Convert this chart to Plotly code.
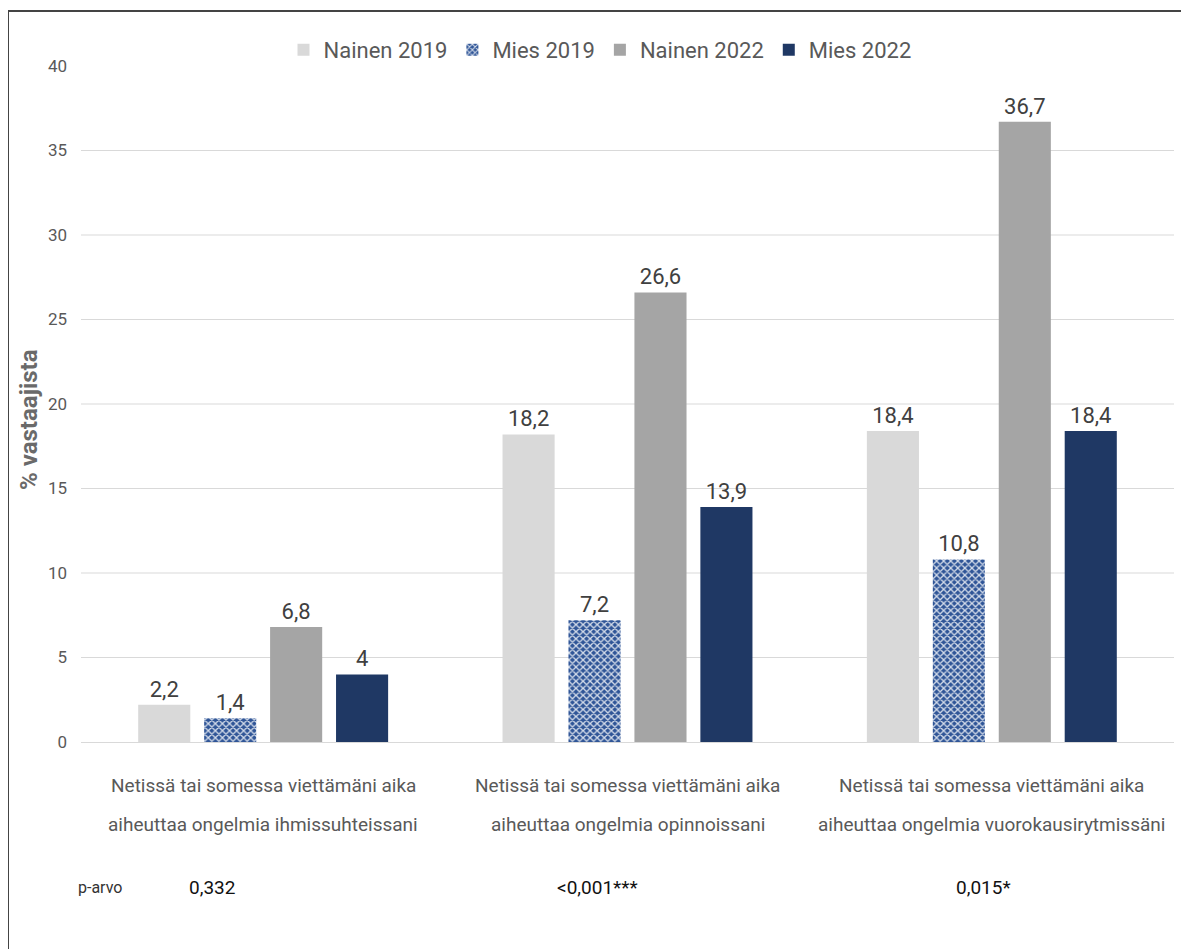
import plotly.graph_objects as go

categories = ["ihmissuhteissani", "opinnoissani", "vuorokausirytmissäni"]
label_line1 = ["Netissä tai somessa viettämäni aika"] * 3
label_line2 = [
    "aiheuttaa ongelmia ihmissuhteissani",
    "aiheuttaa ongelmia opinnoissani",
    "aiheuttaa ongelmia vuorokausirytmissäni",
]
series_names = ["Nainen 2019", "Mies 2019", "Nainen 2022", "Mies 2022"]
nainen_2019 = [2.2, 18.2, 18.4]
mies_2019 = [1.4, 7.2, 10.8]
nainen_2022 = [6.8, 26.6, 36.7]
mies_2022 = [4, 13.9, 18.4]
p_values = ["0,332", "<0,001***", "0,015*"]
y_ticks = [0, 5, 10, 15, 20, 25, 30, 35, 40]
grid_values = [5, 10, 15, 20, 25, 30, 35]

FONT = "Roboto, Open Sans, sans-serif"
H = 676.0
W = 1093.0

def fmt(v):
    return ("%g" % v).replace(".", ",")

fig = go.Figure()
styles = [
    dict(color="#d9d9d9"),
    dict(color="#2f5597", pattern=dict(shape="x", size=5, solidity=0.45, fgcolor="#ffffff", fgopacity=0.8)),
    dict(color="#a5a5a5"),
    dict(color="#1f3864"),
]
for name, vals, st in zip(series_names, [nainen_2019, mies_2019, nainen_2022, mies_2022], styles):
    fig.add_trace(go.Bar(
        name=name, x=categories, y=vals,
        text=[fmt(v) for v in vals], textposition="outside", cliponaxis=False,
        textfont=dict(size=22, color="#404040", family=FONT),
        marker=dict(**st, line=dict(width=0)),
    ))

shapes = [
    dict(type="line", xref="paper", yref="paper", x0=(8 - 81) / W, x1=1.05, y0=(742 - 11) / H, y1=(742 - 11) / H,
         line=dict(color="#444444", width=2)),
    dict(type="line", xref="paper", yref="paper", x0=(8 - 81) / W, x1=(8 - 81) / W, y0=(742 - 11) / H, y1=-0.32,
         line=dict(color="#444444", width=2)),
]
for g in grid_values:
    shapes.append(dict(type="line", xref="paper", yref="y", x0=0, x1=1, y0=g, y1=g,
                       line=dict(color="#d9d9d9", width=1), layer="below"))

annotations = []
for cat, l1, l2 in zip(categories, label_line1, label_line2):
    for txt, py in ((l1, 785), (l2, 825)):
        annotations.append(dict(xref="x", yref="paper", x=cat, y=(742 - py) / H, text=txt,
                                showarrow=False, xanchor="center", yanchor="middle",
                                font=dict(size=19, color="#595959", family=FONT)))

annotations.append(dict(xref="paper", yref="paper", x=(100 - 81) / W, y=(742 - 888) / H,
                        text="p-arvo", showarrow=False, xanchor="center", yanchor="middle",
                        font=dict(size=16, color="#333333", family=FONT)))
p_x = [212, 597, 983]
for px, pv in zip(p_x, p_values):
    annotations.append(dict(xref="paper", yref="paper", x=(px - 81) / W, y=(742 - 888) / H,
                            text=pv, showarrow=False, xanchor="center", yanchor="middle",
                            font=dict(size=19, color="#111111", family=FONT)))

annotations.append(dict(xref="paper", yref="paper", x=(29 - 81) / W, y=(742 - 420) / H,
                        text="<b>% vastaajista</b>", textangle=-90, showarrow=False,
                        xanchor="center", yanchor="middle",
                        font=dict(size=24, color="#6a6a6a", family=FONT)))

fig.update_layout(
    width=1189, height=949,
    margin=dict(l=73, r=23, t=58, b=215, autoexpand=False),
    paper_bgcolor="white", plot_bgcolor="white",
    barmode="group", bargap=0.276, bargroupgap=0.21,
    font=dict(family=FONT, color="#595959"),
    legend=dict(orientation="h", x=(600 - 81) / W, xanchor="center", y=(742 - 50) / H, yanchor="middle",
                font=dict(size=22, color="#595959", family=FONT), itemwidth=30,
                traceorder="normal"),
    xaxis=dict(showline=True, linecolor="#d9d9d9", linewidth=1, ticks="", showticklabels=False),
    yaxis=dict(range=[0, 40], tickvals=y_ticks, showgrid=False,
               zeroline=False, ticks="", ticklabelstandoff=13,
               tickfont=dict(size=17, color="#595959", family=FONT)),
    shapes=shapes,
    annotations=annotations,
)
fig.write_html("out.html")
